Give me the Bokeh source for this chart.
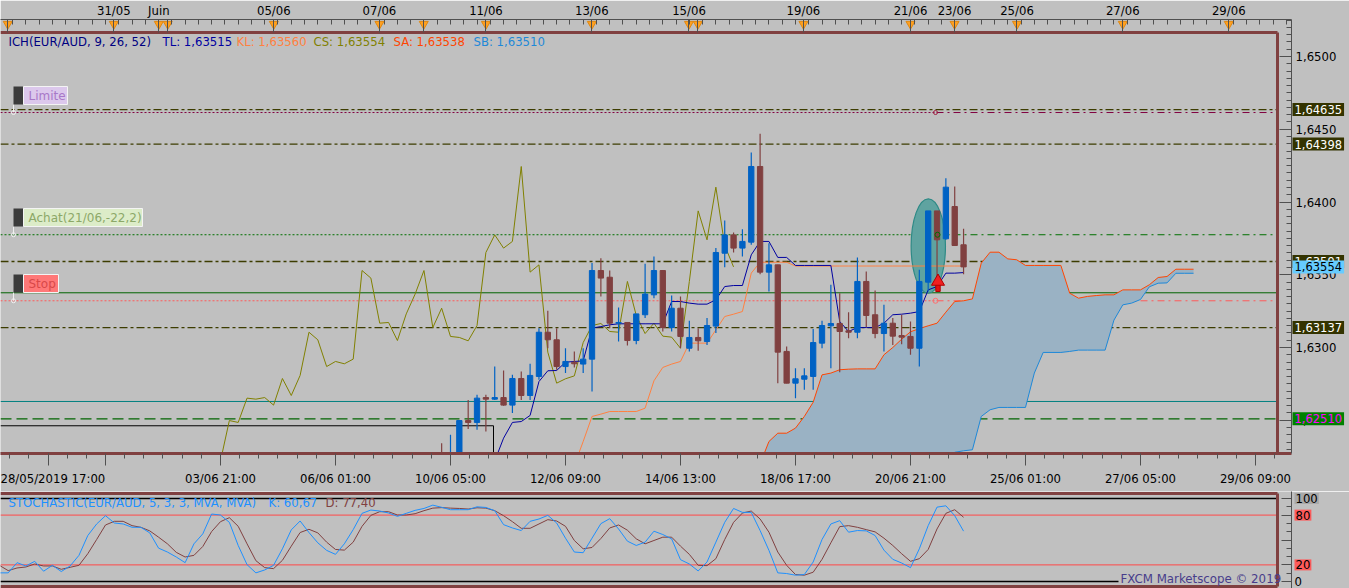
import numpy as np
from bokeh.plotting import figure
from bokeh.models import Range1d, FixedTicker, LinearAxis, Label, ColumnDataSource
from bokeh.layouts import column
from bokeh.embed import file_html
from bokeh.resources import INLINE
from bokeh.core.properties import value

# ---------------- data ----------------
candle_bar = list(range(38, 98))
candle_open = [1.62260, 1.62140, 1.62220, 1.62498, 1.62485, 1.62656, 1.62645, 1.62656, 1.62604, 1.62787,
               1.62670, 1.62801, 1.63105, 1.63053, 1.62869, 1.62899, 1.62886, 1.62920, 1.63529, 1.63483,
               1.63167, 1.63172, 1.63048, 1.63225, 1.63362, 1.63529, 1.63137, 1.63270, 1.62995, 1.63069,
               1.63041, 1.63147, 1.63648, 1.63774, 1.63683, 1.63724, 1.64244, 1.63518, 1.63568, 1.62973,
               1.62755, 1.62782, 1.62801, 1.63030, 1.63149, 1.63165, 1.63115, 1.63105, 1.63454, 1.63225,
               1.63096, 1.63167, 1.63082, 1.63076, 1.62995, 1.63449, 1.63939, 1.63747, 1.63969, 1.63706]
candle_high = [1.62342, 1.62400, 1.62498, 1.62640, 1.62675, 1.62675, 1.62869, 1.62842, 1.62812, 1.62835,
               1.62888, 1.63133, 1.63252, 1.63133, 1.62995, 1.62973, 1.62995, 1.63580, 1.63614, 1.63529,
               1.63275, 1.63172, 1.63231, 1.63575, 1.63625, 1.63529, 1.63357, 1.63351, 1.63183, 1.63133,
               1.63202, 1.63683, 1.63873, 1.63790, 1.63813, 1.64340, 1.64469, 1.63717, 1.63568, 1.63007,
               1.62858, 1.62858, 1.63128, 1.63183, 1.63431, 1.63373, 1.63243, 1.63619, 1.63522, 1.63392,
               1.63293, 1.63202, 1.63225, 1.63179, 1.63534, 1.63939, 1.63939, 1.64164, 1.64107, 1.63816]
candle_low = [1.62120, 1.62110, 1.62180, 1.62440, 1.62434, 1.62423, 1.62640, 1.62600, 1.62549, 1.62640,
              1.62640, 1.62778, 1.62995, 1.62847, 1.62824, 1.62863, 1.62824, 1.62698, 1.63351, 1.63133,
              1.63041, 1.63014, 1.63023, 1.63202, 1.63339, 1.63110, 1.63110, 1.62995, 1.62973, 1.62977,
              1.63018, 1.63099, 1.63552, 1.63653, 1.63625, 1.63706, 1.63504, 1.63385, 1.62755, 1.62755,
              1.62652, 1.62709, 1.62709, 1.62995, 1.62858, 1.62830, 1.63064, 1.63064, 1.63140, 1.63064,
              1.62973, 1.63018, 1.63023, 1.62950, 1.62869, 1.63385, 1.63454, 1.63740, 1.63701, 1.63504]
candle_close = [1.62140, 1.62220, 1.62498, 1.62485, 1.62652, 1.62645, 1.62656, 1.62604, 1.62787, 1.62670,
                1.62808, 1.63105, 1.63053, 1.62869, 1.62904, 1.62888, 1.62920, 1.63529, 1.63477, 1.63167,
                1.63172, 1.63048, 1.63231, 1.63367, 1.63529, 1.63137, 1.63270, 1.63076, 1.63069, 1.63046,
                1.63151, 1.63653, 1.63774, 1.63683, 1.63729, 1.64244, 1.63518, 1.63568, 1.62968, 1.62755,
                1.62785, 1.62805, 1.63034, 1.63151, 1.63165, 1.63110, 1.63105, 1.63454, 1.63220, 1.63096,
                1.63167, 1.63078, 1.63071, 1.62995, 1.63454, 1.63939, 1.63740, 1.64102, 1.63701, 1.63554]

tenkan_bar = list(range(44, 98))
tenkan = [1.62220, 1.62377, 1.62485, 1.62491, 1.62533, 1.62766, 1.62840, 1.62842, 1.62899, 1.62904,
          1.62908, 1.63133, 1.63144, 1.63156, 1.63163, 1.63163, 1.63163, 1.63163, 1.63163, 1.63163,
          1.63316, 1.63316, 1.63305, 1.63298, 1.63298, 1.63328, 1.63419, 1.63426, 1.63426, 1.63637,
          1.63729, 1.63729, 1.63619, 1.63619, 1.63564, 1.63564, 1.63564, 1.63564, 1.63564, 1.63179,
          1.63110, 1.63137, 1.63137, 1.63137, 1.63167, 1.63225, 1.63229, 1.63236, 1.63247, 1.63396,
          1.63419, 1.63511, 1.63511, 1.63515]

kijun_bar = list(range(53, 98))
kijun = [1.62190, 1.62354, 1.62526, 1.62542, 1.62560, 1.62560, 1.62560, 1.62560, 1.62583, 1.62771,
         1.62863, 1.62886, 1.62904, 1.63030, 1.63030, 1.63030, 1.63121, 1.63213, 1.63229, 1.63247,
         1.63511, 1.63586, 1.63586, 1.63586, 1.63586, 1.63560, 1.63560, 1.63560, 1.63560, 1.63560,
         1.63560, 1.63560, 1.63560, 1.63560, 1.63560, 1.63560, 1.63560, 1.63560, 1.63560, 1.63560,
         1.63560, 1.63560, 1.63560, 1.63560, 1.63560]

cloud_bar = list(range(74, 124))
senkou_a = [1.62200, 1.62354, 1.62411, 1.62411, 1.62446, 1.62526, 1.62624, 1.62812, 1.62824, 1.62847,
            1.62851, 1.62853, 1.62853, 1.62853, 1.62950, 1.63000, 1.63057, 1.63108, 1.63130, 1.63149,
            1.63167, 1.63243, 1.63316, 1.63321, 1.63334, 1.63580, 1.63655, 1.63655, 1.63609, 1.63603,
            1.63564, 1.63564, 1.63564, 1.63564, 1.63564, 1.63373, 1.63339, 1.63351, 1.63357, 1.63362,
            1.63362, 1.63396, 1.63396, 1.63396, 1.63431, 1.63481, 1.63488, 1.63538, 1.63538, 1.63538]
senkou_b = [1.62100, 1.62100, 1.62100, 1.62100, 1.62100, 1.62100, 1.62100, 1.62100, 1.62100, 1.62100,
            1.62100, 1.62100, 1.62100, 1.62100, 1.62100, 1.62100, 1.62100, 1.62100, 1.62100, 1.62100,
            1.62100, 1.62100, 1.62280, 1.62290, 1.62297, 1.62526, 1.62572, 1.62588, 1.62588, 1.62588,
            1.62588, 1.62824, 1.62966, 1.62966, 1.62966, 1.62973, 1.62982, 1.62982, 1.62982, 1.62982,
            1.63188, 1.63293, 1.63305, 1.63330, 1.63417, 1.63442, 1.63444, 1.63510, 1.63510, 1.63510]

stoch_bar = list(range(-12, 98))
stoch_k = [10.4, 10.4, 22.7, 18.7, 24.3, 12.4, 19.5, 12.0, 18.7, 31.5, 55.4, 69.3,
           79.3, 70.5, 69.3, 65.3, 65.3, 58.6, 40.2, 35.5, 29.5, 22.7, 45.4, 57.4,
           81.3, 80.1, 71.3, 43.4, 20.3, 10.4, 13.9, 19.5, 39.4, 62.2, 72.9, 59.0,
           46.6, 37.5, 32.7, 45.4, 62.5, 82.1, 86.1, 84.9, 82.5, 78.5, 82.1, 85.7,
           88.0, 92.0, 89.4, 86.5, 86.5, 86.5, 90.0, 89.2, 85.3, 68.5, 64.5, 61.4,
           72.5, 75.3, 79.7, 70.5, 52.2, 35.5, 34.7, 52.2, 69.7, 75.7, 63.3, 48.6,
           43.4, 47.4, 60.6, 56.6, 51.4, 26.3, 21.1, 12.7, 23.5, 47.4, 71.3, 88.0,
           83.3, 83.3, 61.4, 37.5, 10.4, 9.6, 7.6, 8.4, 23.5, 50.6, 69.3, 73.3,
           59.4, 61.4, 61.0, 55.4, 37.8, 26.7, 22.3, 16.7, 39.4, 67.3, 89.6, 91.2,
           79.3, 60.67]
stoch_d = [19.5, 13.1, 16.3, 17.5, 21.1, 18.7, 18.7, 14.7, 17.1, 19.5, 33.5, 50.6,
           68.1, 72.5, 72.5, 67.3, 65.3, 61.0, 53.4, 45.4, 35.1, 29.5, 31.5, 42.2,
           60.2, 72.1, 76.9, 66.5, 45.4, 25.1, 16.7, 15.5, 25.5, 42.6, 59.0, 62.9,
           58.6, 47.4, 38.6, 37.8, 47.4, 66.5, 79.7, 84.1, 84.1, 80.1, 80.1, 81.7,
           85.3, 88.4, 89.0, 88.4, 88.0, 87.3, 88.8, 88.4, 85.3, 79.3, 72.1, 64.1,
           64.1, 69.3, 74.5, 72.9, 66.5, 49.4, 39.4, 41.0, 51.8, 64.5, 68.1, 61.8,
           51.4, 45.4, 49.4, 53.4, 53.4, 42.6, 32.7, 19.5, 19.1, 27.5, 50.6, 71.3,
           82.5, 84.9, 75.3, 59.4, 35.5, 19.5, 8.4, 7.6, 11.2, 26.7, 46.6, 66.1,
           67.3, 65.3, 62.5, 59.8, 52.2, 43.4, 33.5, 24.3, 27.5, 38.6, 63.3, 82.1,
           86.5, 77.4]

bottom_tick_bars = [-6.44, 0, 13, 26, 39, 52, 65, 78, 91, 104, 117, 130]
bottom_tick_labels = ["28/05/2019 17:00", "", "03/06 21:00", "06/06 01:00", "10/06 05:00", "12/06 09:00",
                      "14/06 13:00", "18/06 17:00", "20/06 21:00", "25/06 01:00", "27/06 05:00", "29/06 09:00"]
top_tick_bars = [-11.05, 0.94, 6.03, 7.04, 19.03, 30.97, 35.98, 43.01, 54.98, 65.96, 66.96,
                 78.9, 91.0, 95.98, 103.04, 115.0, 126.98]
top_tick_labels = ["", "31/05", "Juin", "", "05/06", "07/06", "", "11/06", "13/06", "15/06", "",
                   "19/06", "21/06", "23/06", "25/06", "27/06", "29/06"]
price_ticks = [1.625, 1.630, 1.635, 1.640, 1.645, 1.650]
price_tick_labels = ["1,6250", "1,6300", "1,6350", "1,6400", "1,6450", "1,6500"]
stoch_ticks = [0, 20, 50, 80, 100]
stoch_tick_labels = ["0", "20", "", "80", "100"]

olive_levels = [1.64635, 1.64398, 1.63591, 1.63137]
limit_level = 1.64615
buy_level = 1.63775
stop_level = 1.63321
green_level = 1.63376
teal_level = 1.62629
green_dash_level = 1.62510
box_level = 1.62462
price_boxes = [("1,64635", 1.64635, "#333300", "#FFFFFF"),
               ("1,64398", 1.64398, "#333300", "#FFFFFF"),
               ("1,63591", 1.63591, "#333300", "#FFFFFF"),
               ("1,63554", 1.63554, "#66CCFF", "#000000"),
               ("1,63137", 1.63137, "#333300", "#FFFFFF"),
               ("1,62510", 1.62510, "#008000", "#FF00FF")]
stoch_boxes = [("100", 100, "#A8A8A8"), ("80", 80, "#FF5A5A"), ("20", 20, "#FF5A5A")]

# ---------------- geometry helpers (reference pixels -> data) ----------------
BAR_PX, X0_PX = 8.846, 105.0
def bx(px):
    return (px - X0_PX) / BAR_PX
def py(px):
    return 1.65 - (px - 55.0) / 14550.0
def sy(px):
    return (580.0 - px) / 0.83

BG = "#C0C0C0"
BROWN = "#804040"
FONT = "DejaVu Sans"
FS = "11.7px"
XL, XR, XB = bx(0), bx(1291), bx(1277)

p = figure(frame_width=1291, frame_height=434, x_range=Range1d(XL, XR), y_range=Range1d(py(452), py(18)),
           x_axis_location=None, y_axis_location=None, toolbar_location=None, output_backend="svg",
           background_fill_color=BG, border_fill_color=BG, outline_line_color=None,
           min_border_left=0, min_border_right=56, min_border_top=18, min_border_bottom=38)
p.grid.visible = False

def styled_axis(ticks, minor, labels, tin, tout, mtin, mtout, standoff, line_color="#505050", line_width=1):
    return LinearAxis(ticker=FixedTicker(ticks=ticks, minor_ticks=minor),
                      major_label_overrides=dict(zip(ticks, labels)),
                      major_tick_in=tin, major_tick_out=tout, minor_tick_in=mtin, minor_tick_out=mtout,
                      axis_line_color=line_color, axis_line_width=line_width,
                      major_tick_line_color="#505050", minor_tick_line_color="#505050",
                      major_label_text_font=FONT, major_label_text_font_size=FS,
                      major_label_text_color="#000000", major_label_standoff=standoff)

top_minor = [round(-12 + 1.5 * k, 2) for k in range(98)]
p.add_layout(styled_axis(top_tick_bars, top_minor, top_tick_labels, 13, 0, 5, 0, 2), "above")
bottom_minor = [round(b + k * 13 / 6, 3) for b in [-13] + bottom_tick_bars[1:] for k in range(1, 6)]
p.add_layout(styled_axis(bottom_tick_bars, bottom_minor, bottom_tick_labels, 0, 12, 0, 5, 6,
                         line_color=BROWN, line_width=3), "below")
price_minor = [round(1.6225 + 0.0005 * k, 4) for k in range(62)]
p.add_layout(styled_axis(price_ticks, price_minor, price_tick_labels, 12, 0, 5, 0, 4), "right")

# header
hdr = ColumnDataSource(dict(
    x=[bx(8), bx(162), bx(236), bx(313), bx(393), bx(473)], y=[py(40)] * 6,
    t=["ICH(EUR/AUD, 9, 26, 52)", "TL: 1,63515", "KL: 1,63560", "CS: 1,63554", "SA: 1,63538", "SB: 1,63510"],
    c=["#000080", "#0000A0", "#FF8040", "#808000", "#FF4500", "#1E88D8"]))
p.text(x="x", y="y", text="t", text_color="c", source=hdr, text_font=value(FONT),
       text_font_size=FS, text_baseline="middle", text_align="left")

# horizontal levels
OLIVE = "#3C3C00"
for lv in olive_levels:
    p.segment(x0=[XL], y0=[lv], x1=[XB], y1=[lv], line_color=OLIVE, line_dash="8 3 3 3", line_width=1.3)
xo = bx(936)
for lv, col in [(limit_level, "#800040"), (buy_level, "#007000"), (stop_level, "#FF5A5A")]:
    p.segment(x0=[XL], y0=[lv], x1=[xo], y1=[lv], line_color=col, line_dash="2 2", line_width=1)
    p.segment(x0=[xo], y0=[lv], x1=[XB], y1=[lv], line_color=col, line_dash="7 4 2 4", line_width=1)
p.segment(x0=[XL], y0=[green_level], x1=[XB], y1=[green_level], line_color="#006400", line_width=1)
p.segment(x0=[XL], y0=[teal_level], x1=[XB], y1=[teal_level], line_color="#008080", line_width=1)
p.segment(x0=[XL], y0=[green_dash_level], x1=[XB], y1=[green_dash_level], line_color="#006400",
          line_dash="11 5", line_width=1.2)
p.line(x=[XL, bx(493), bx(493)], y=[box_level, box_level, py(460)], line_color="#000000", line_width=1)

# cloud
p.varea(x=cloud_bar, y1=senkou_a, y2=senkou_b, fill_color="#9AB2C4")
p.line(x=cloud_bar, y=senkou_a, line_color="#FF4500", line_width=1)
p.line(x=cloud_bar, y=senkou_b, line_color="#1E88D8", line_width=1)

# ellipse highlight
p.ellipse(x=[bx(927.8)], y=[py(244.5)], width=[34.3 / BAR_PX], height=[94.3 / 14550.0],
          fill_color="#5FA3A0", line_color="#2E8A86", line_width=1.2)

# chikou / tenkan / kijun
p.line(x=[b - 26 for b in candle_bar], y=candle_close, line_color="#808000", line_width=1)
p.line(x=kijun_bar, y=kijun, line_color="#FF8040", line_width=1)
p.line(x=tenkan_bar, y=tenkan, line_color="#0000A0", line_width=1)

# candles
cols = ["#0062C4" if c >= o else BROWN for o, c in zip(candle_open, candle_close)]
src = ColumnDataSource(dict(x=candle_bar, h=candle_high, l=candle_low,
                            top=[max(o, c) for o, c in zip(candle_open, candle_close)],
                            bot=[min(o, c) for o, c in zip(candle_open, candle_close)], col=cols))
p.segment(x0="x", y0="l", x1="x", y1="h", line_color="col", line_width=1.2, source=src)
p.vbar(x="x", width=0.6, top="top", bottom="bot", fill_color="col", line_color="col", source=src)

# order markers and arrow
p.scatter(x=[bx(935)], y=[limit_level], marker="circle", size=4, fill_color=None, line_color="#A02040")
p.scatter(x=[bx(937)], y=[buy_level], marker="circle", size=5, fill_color=None, line_color="#007000")
p.scatter(x=[bx(935)], y=[stop_level], marker="circle", size=5, fill_color=None, line_color="#FF7070")
p.quad(left=[bx(935.3)], right=[bx(939.7)], bottom=[py(290)], top=[py(282)], fill_color="#E01010",
       line_color="#B00000")
p.scatter(x=[bx(937.5)], y=[py(280)], marker="triangle", size=13, fill_color="#F02020", line_color="#B00000")

# left order tags
for top_px, right_px, txt, bgc, fgc, lv in [(85, 67, "Limite", "#DCC8EC", "#A878C8", limit_level),
                                            (207, 142, "Achat(21/06,-22,2)", "#DCECC8", "#8CA868", buy_level),
                                            (273, 58, "Stop", "#FF7878", "#D84848", stop_level)]:
    p.segment(x0=[bx(13)], y0=[py(top_px + 18)], x1=[bx(13)], y1=[lv], line_color="#F0F0F0", line_width=1)
    p.scatter(x=[bx(13)], y=[lv], marker="circle", size=4, fill_color=None, line_color="#F0F0F0")
    p.quad(left=[bx(13)], right=[bx(23)], bottom=[py(top_px + 18)], top=[py(top_px)], fill_color="#3C3C3C",
           line_color=None)
    p.quad(left=[bx(23)], right=[bx(right_px)], bottom=[py(top_px + 18)], top=[py(top_px)], fill_color=bgc,
           line_color="#F4F4F4")
    p.text(x=[bx(28)], y=[py(top_px + 9.5)], text=[txt], text_color=fgc, text_font=value(FONT),
           text_font_size="12px", text_baseline="middle", text_align="left")

# event triangles on the top axis
p.scatter(x=top_tick_bars, y=[py(22.5)] * len(top_tick_bars), marker="inverted_triangle", size=9,
          fill_color="#FFA020", line_color="#E08810")

# brown frame
p.segment(x0=[XL], y0=[py(31)], x1=[XB], y1=[py(31)], line_color=BROWN, line_width=3)
p.segment(x0=[XB], y0=[py(452)], x1=[XB], y1=[py(31)], line_color=BROWN, line_width=3)

# right price boxes (drawn in the right-hand panel so they are not clipped by the frame)
for txt, lv, bgc, fgc in price_boxes:
    p.add_layout(Label(x=XR, y=lv, x_offset=1, text=txt, text_align="left", text_baseline="middle",
                       text_font=FONT, text_font_size="11.5px", text_color=fgc,
                       background_fill_color=bgc, padding=2), "right")

# ---------------- stochastic panel ----------------
s = figure(frame_width=1291, frame_height=98, x_range=p.x_range, y_range=Range1d(sy(588), sy(490)),
           x_axis_location=None, y_axis_location=None, toolbar_location=None, output_backend="svg",
           background_fill_color=BG, border_fill_color=BG, outline_line_color=None,
           min_border_left=0, min_border_right=56, min_border_top=0, min_border_bottom=0)
s.grid.visible = False
s.add_layout(styled_axis(stoch_ticks, [10, 30, 40, 60, 70, 90], stoch_tick_labels, 10, 0, 5, 0, 3), "right")

s.segment(x0=[XL, XL], y0=[80, 20], x1=[XB, XB], y1=[80, 20], line_color="#FF4848", line_width=1)
s.segment(x0=[XL, XL], y0=[100, 0], x1=[XB, bx(1118)], y1=[100, 0], line_color="#000000", line_width=1.5)
s.line(x=stoch_bar, y=stoch_d, line_color=BROWN, line_width=1)
s.line(x=stoch_bar, y=stoch_k, line_color="#1E90FF", line_width=1)
s.segment(x0=[XL, XL, XB], y0=[sy(492), sy(585), sy(585)], x1=[XB, XB, XB],
          y1=[sy(492), sy(585), sy(492)], line_color=BROWN, line_width=3)
s.text(x=[bx(8), bx(268), bx(325)], y=[sy(501)] * 3,
       text=["STOCHASTIC(EUR/AUD, 5, 3, 3, MVA, MVA)", "K: 60,67", "D: 77,40"],
       text_color=["#1E90FF", "#1E90FF", BROWN], text_font=value(FONT), text_font_size=FS,
       text_baseline="middle", text_align="left")
s.text(x=[bx(1120)], y=[sy(577)], text=["FXCM Marketscope \u00a9 2019"], text_color="#483D8B",
       text_font=value(FONT), text_font_size="11.8px", text_baseline="middle", text_align="left")
for txt, lv, bgc in stoch_boxes:
    s.add_layout(Label(x=XR, y=lv, x_offset=3, text=txt, text_align="left", text_baseline="middle",
                       text_font=FONT, text_font_size=FS, text_color="#000000",
                       background_fill_color=bgc, padding=1), "right")

layout = column(p, s, spacing=0)
open("out.html", "w").write(file_html(layout, INLINE))
